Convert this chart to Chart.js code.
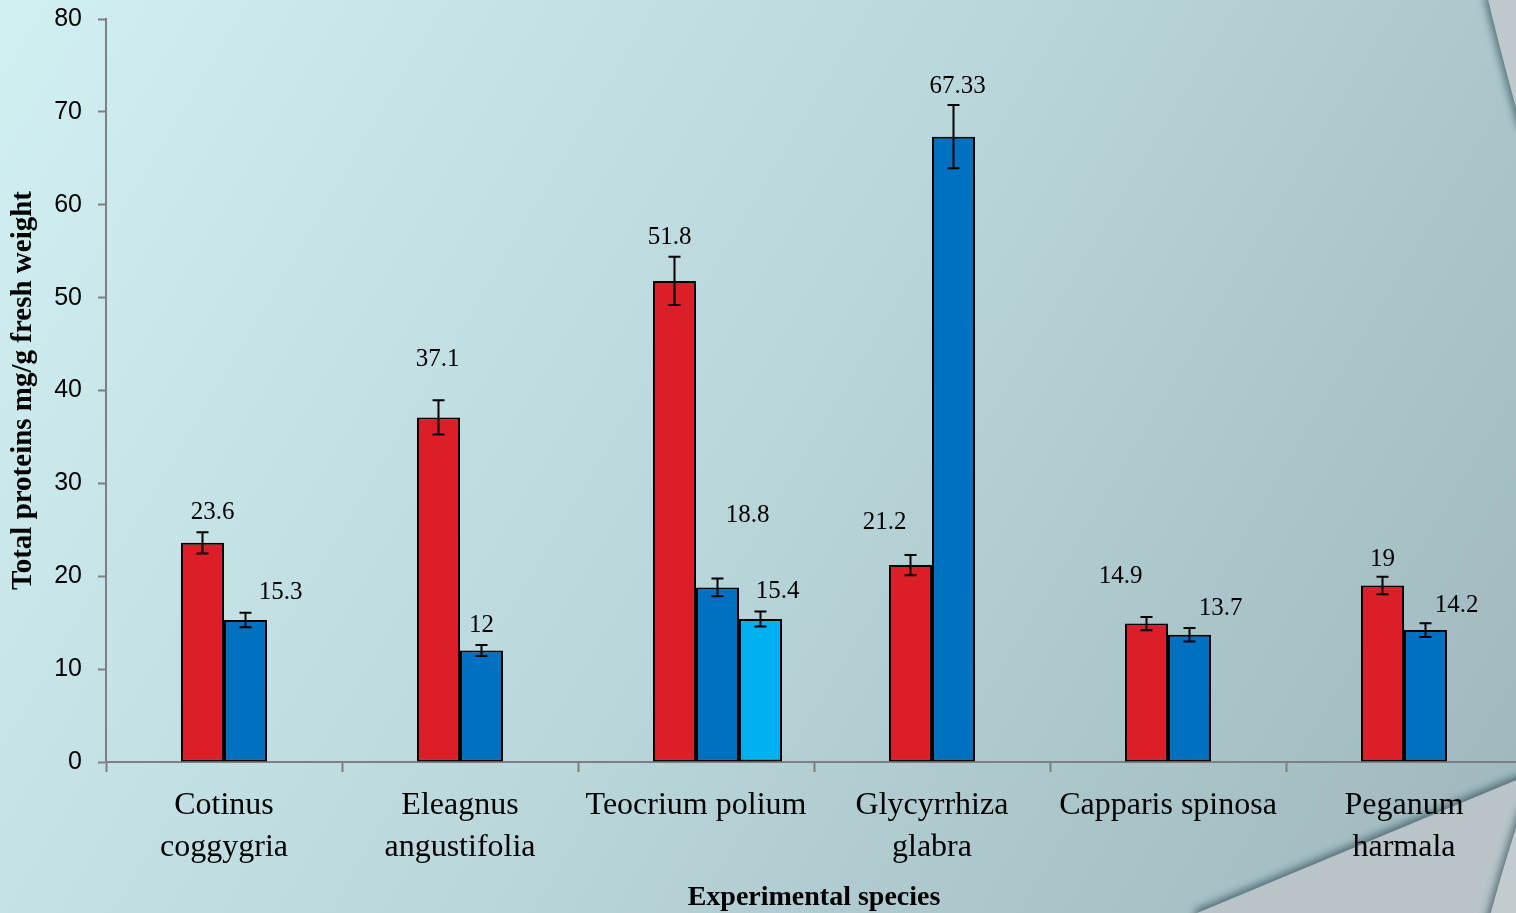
<!DOCTYPE html>
<html>
<head>
<meta charset="utf-8">
<script src="https://cdn.jsdelivr.net/npm/chart.js@4.4.1/dist/chart.umd.min.js"></script>
<style>
  html, body { margin: 0; padding: 0; overflow: hidden; width: 1516px; height: 913px; }
  #wrap { position: absolute; left: 0; top: 0; width: 1530px; height: 913px; }
</style>
</head>
<body>
<div id="wrap"><canvas id="proteinChart" width="1530" height="913"></canvas></div>
<script>
// categories (multi-line where the original wraps)
const species = [
    ["Cotinus", "coggygria"],
    ["Eleagnus", "angustifolia"],
    "Teocrium polium",
    ["Glycyrrhiza", "glabra"],
    "Capparis spinosa",
    ["Peganum", "harmala"]
];

// total proteins, mg/g fresh weight
const emptySlot = [null, null, null, null, null, null];
const redValues = [23.6, 37.1, 51.8, 21.2, 14.9, 19];
const blueValues = [15.3, 12, 18.8, 67.33, 13.7, 14.2];
const lightBlueValues = [null, null, 15.4, null, null, null];

// +/- error
const redErrors = [1.15, 1.85, 2.6, 1.1, 0.72, 0.95];
const blueErrors = [0.78, 0.6, 0.95, 3.4, 0.72, 0.75];
const lightBlueErrors = [null, null, 0.8, null, null, null];

const yMin = 0;
const yMax = 80;
const yStep = 10;

// value label nudges in px, relative to bar centre / top of error bar
const redLabelNudge = [[10, -20], [-1, -41], [-5, -19], [-26, -32], [-26, -40], [0, -17]];
const blueLabelNudge = [[35, -20], [0, -20], [30, -63], [4, -19], [31, -20], [31, -18]];
const lightBlueLabelNudge = [null, null, [17, -20], null, null, null];

const serif = "'Liberation Serif', 'Times New Roman', serif";
const sans = "'Liberation Sans', Arial, sans-serif";

const backdrop = {
    id: "backdrop",
    beforeDraw(chart) {
        const ctx = chart.ctx;
        const w = chart.width, h = chart.height;
        ctx.save();
        const g = ctx.createLinearGradient(0, 0, w, h);
        g.addColorStop(0, "#d1f0f2");
        g.addColorStop(0.5, "#b9d6da");
        g.addColorStop(1, "#9db6bc");
        ctx.fillStyle = g;
        ctx.fillRect(0, 0, w, h);

        // slide decoration, top right
        ctx.shadowColor = "rgba(40, 70, 80, 0.7)";
        ctx.shadowBlur = 8;
        ctx.shadowOffsetX = -3;
        ctx.fillStyle = "#bdc9cc";
        ctx.beginPath();
        ctx.moveTo(1487, -5);
        ctx.quadraticCurveTo(1500, 50, 1522, 130);
        ctx.lineTo(w + 10, 130);
        ctx.lineTo(w + 10, -5);
        ctx.closePath();
        ctx.fill();

        // bottom right wedge
        ctx.shadowOffsetX = -2;
        ctx.shadowOffsetY = -3;
        ctx.fillStyle = "#b8c4c7";
        ctx.beginPath();
        ctx.moveTo(1197, h + 10);
        ctx.lineTo(1197, h);
        ctx.lineTo(w + 10, 770);
        ctx.lineTo(w + 10, h + 10);
        ctx.closePath();
        ctx.fill();

        ctx.shadowOffsetY = 0;
        ctx.shadowOffsetX = -3;
        ctx.fillStyle = "#c2cbce";
        ctx.beginPath();
        ctx.moveTo(1488, h + 10);
        ctx.quadraticCurveTo(1505, 860, 1522, 810);
        ctx.lineTo(w + 10, 790);
        ctx.lineTo(w + 10, h + 10);
        ctx.closePath();
        ctx.fill();
        ctx.restore();
    }
};

const errorBarsAndLabels = {
    id: "errorBarsAndLabels",
    afterDatasetsDraw(chart) {
        const ctx = chart.ctx;
        const yScale = chart.scales.y;
        ctx.save();
        chart.data.datasets.forEach((ds, di) => {
            if (!ds.errors) return;
            const meta = chart.getDatasetMeta(di);
            meta.data.forEach((bar, i) => {
                const v = ds.data[i];
                if (v === null || v === undefined) return;
                const e = ds.errors[i];
                const top = yScale.getPixelForValue(v + e);
                const bottom = yScale.getPixelForValue(v - e);
                ctx.strokeStyle = "#000";
                ctx.lineWidth = 2;
                ctx.beginPath();
                ctx.moveTo(bar.x, top);
                ctx.lineTo(bar.x, bottom);
                ctx.moveTo(bar.x - 6, top);
                ctx.lineTo(bar.x + 6, top);
                ctx.moveTo(bar.x - 6, bottom);
                ctx.lineTo(bar.x + 6, bottom);
                ctx.stroke();

                const nudge = ds.labelNudge[i] || [0, -20];
                ctx.fillStyle = "#000";
                ctx.font = "25px " + serif;
                ctx.textAlign = "center";
                ctx.textBaseline = "middle";
                ctx.fillText(String(v), bar.x + nudge[0], top + nudge[1]);
            });
        });
        ctx.restore();
    }
};

const ctx = document.getElementById("proteinChart").getContext("2d");
new Chart(ctx, {
    type: "bar",
    data: {
        labels: species,
        datasets: [
            {
                label: "",
                data: emptySlot,
                backgroundColor: "transparent"
            },
            {
                label: "Red",
                data: redValues,
                errors: redErrors,
                labelNudge: redLabelNudge,
                backgroundColor: "#da1f28",
                borderColor: "#000",
                borderWidth: 2,
                borderSkipped: false
            },
            {
                label: "Blue",
                data: blueValues,
                errors: blueErrors,
                labelNudge: blueLabelNudge,
                backgroundColor: "#0070c0",
                borderColor: "#000",
                borderWidth: 2,
                borderSkipped: false
            },
            {
                label: "Light blue",
                data: lightBlueValues,
                errors: lightBlueErrors,
                labelNudge: lightBlueLabelNudge,
                backgroundColor: "#00b0f0",
                borderColor: "#000",
                borderWidth: 2,
                borderSkipped: false
            }
        ]
    },
    options: {
        responsive: false,
        animation: false,
        devicePixelRatio: 1,
        categoryPercentage: 172 / 236,
        barPercentage: 1,
        layout: { padding: { left: 0, top: 19, right: 8, bottom: 0 } },
        plugins: {
            legend: { display: false },
            tooltip: { enabled: false }
        },
        scales: {
            x: {
                afterFit: scale => { scale.height = 151; },
                grid: {
                    offset: true,
                    drawOnChartArea: false,
                    drawTicks: true,
                    tickLength: 10,
                    tickColor: "#7f7f7f",
                    tickWidth: 2
                },
                border: { display: true, color: "#7f7f7f", width: 2 },
                ticks: {
                    color: "#000",
                    padding: 13,
                    maxRotation: 0,
                    autoSkip: false,
                    font: { family: serif, size: 32, lineHeight: 42 / 32 }
                },
                title: {
                    display: true,
                    text: "Experimental species",
                    color: "#000",
                    padding: { top: 0, bottom: 1 },
                    font: { family: serif, size: 28, weight: "bold", lineHeight: 1 }
                }
            },
            y: {
                min: yMin,
                max: yMax,
                afterFit: scale => {
                    scale.width = 106;
                    scale.paddingTop = 0;
                },
                grid: {
                    drawOnChartArea: false,
                    drawTicks: true,
                    tickLength: 8,
                    tickColor: "#7f7f7f",
                    tickWidth: 2
                },
                border: { display: true, color: "#7f7f7f", width: 2 },
                ticks: {
                    stepSize: yStep,
                    color: "#000",
                    padding: 16,
                    font: { family: sans, size: 25 }
                },
                title: {
                    display: true,
                    text: "Total proteins mg/g fresh weight",
                    color: "#000",
                    padding: { top: 6, bottom: 0 },
                    font: { family: serif, size: 29, weight: "bold" }
                }
            }
        }
    },
    plugins: [backdrop, errorBarsAndLabels]
});
</script>
</body>
</html>
